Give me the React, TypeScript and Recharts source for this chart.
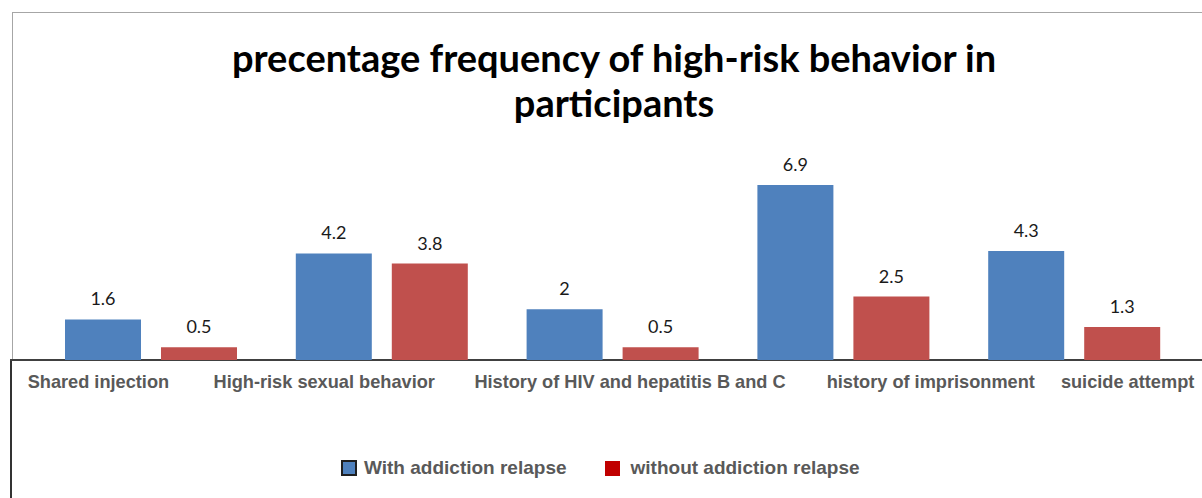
import { Bar, BarChart, LabelList, XAxis, YAxis } from 'recharts'

const categories = [
  'Shared injection',
  'High-risk sexual behavior',
  'History of HIV and hepatitis B and C',
  'history of imprisonment',
  'suicide attempt',
]
const withRelapse = [1.6, 4.2, 2, 6.9, 4.3]
const withoutRelapse = [0.5, 3.8, 0.5, 2.5, 1.3]

// category labels in the original sit off-centre from their bars
const tickShift = [-53, -58, 17, 87, 53]

const data = categories.map((name, i) => ({
  name,
  withRelapse: withRelapse[i],
  withoutRelapse: withoutRelapse[i],
}))

const BLUE = '#4F81BD'
const RED = '#C0504D'
const SANS = "'Liberation Sans', Arial, sans-serif"
const CALIBRI = "Lato, 'Open Sans', sans-serif"

function CategoryTick(props: any) {
  const { x, y, payload, index } = props
  return (
    <text
      x={x + (tickShift[index] ?? 0)}
      y={y}
      dy={28}
      textAnchor="middle"
      fill="#595959"
      fontSize={18.2}
      fontFamily={SANS}
      fontWeight={700}
    >
      {payload.value}
    </text>
  )
}

export default function App() {
  return (
    <div
      style={{
        position: 'absolute',
        left: 0,
        top: 0,
        width: 1202,
        height: 498,
        background: '#fff',
        overflow: 'hidden',
      }}
    >
      {/* frame */}
      <div style={{ position: 'absolute', left: 12, top: 12, width: 1190, height: 1, background: '#a6a6a6' }} />
      <div style={{ position: 'absolute', left: 12, top: 12, width: 1, height: 348, background: '#a6a6a6' }} />
      <div style={{ position: 'absolute', left: 10, top: 360, width: 2, height: 138, background: '#333' }} />
      <div style={{ position: 'absolute', left: 10, top: 359, width: 1192, height: 2, background: '#404040' }} />

      <div
        style={{
          position: 'absolute',
          left: 0,
          top: 35,
          width: 1228,
          textAlign: 'center',
          fontFamily: CALIBRI,
          fontWeight: 700,
          fontSize: 38,
          lineHeight: '45px',
          color: '#000',
        }}
      >
        precentage frequency of high-risk behavior in
        <br />
        participants
      </div>

      <div style={{ position: 'absolute', left: 0, top: 0 }}>
        <BarChart
          width={1202}
          height={498}
          data={data}
          margin={{ top: 157, right: 12, bottom: 98, left: 36 }}
          barGap={20}
          barSize={76}
        >
          <XAxis
            dataKey="name"
            axisLine={false}
            tickLine={false}
            tickSize={0}
            tickMargin={0}
            height={40}
            interval={0}
            tick={<CategoryTick />}
          />
          <YAxis hide domain={[0, 8]} />
          <Bar dataKey="withRelapse" fill={BLUE} isAnimationActive={false}>
            <LabelList
              dataKey="withRelapse"
              position="top"
              offset={14}
              fill="#1a1a1a"
              fontSize={18}
              fontFamily={CALIBRI}
            />
          </Bar>
          <Bar dataKey="withoutRelapse" fill={RED} isAnimationActive={false}>
            <LabelList
              dataKey="withoutRelapse"
              position="top"
              offset={14}
              fill="#1a1a1a"
              fontSize={18}
              fontFamily={CALIBRI}
            />
          </Bar>
        </BarChart>
      </div>

      {/* legend */}
      <div
        style={{
          position: 'absolute',
          left: 341,
          top: 456,
          height: 24,
          display: 'flex',
          alignItems: 'center',
          fontFamily: SANS,
          fontWeight: 700,
          fontSize: 19,
          color: '#595959',
        }}
      >
        <span style={{ width: 12, height: 12, background: BLUE, border: '2px solid #1f1f1f', marginRight: 7 }} />
        <span>With addiction relapse</span>
        <span style={{ width: 15, height: 15, background: '#C00000', marginLeft: 38, marginRight: 11 }} />
        <span>without addiction relapse</span>
      </div>
    </div>
  )
}
